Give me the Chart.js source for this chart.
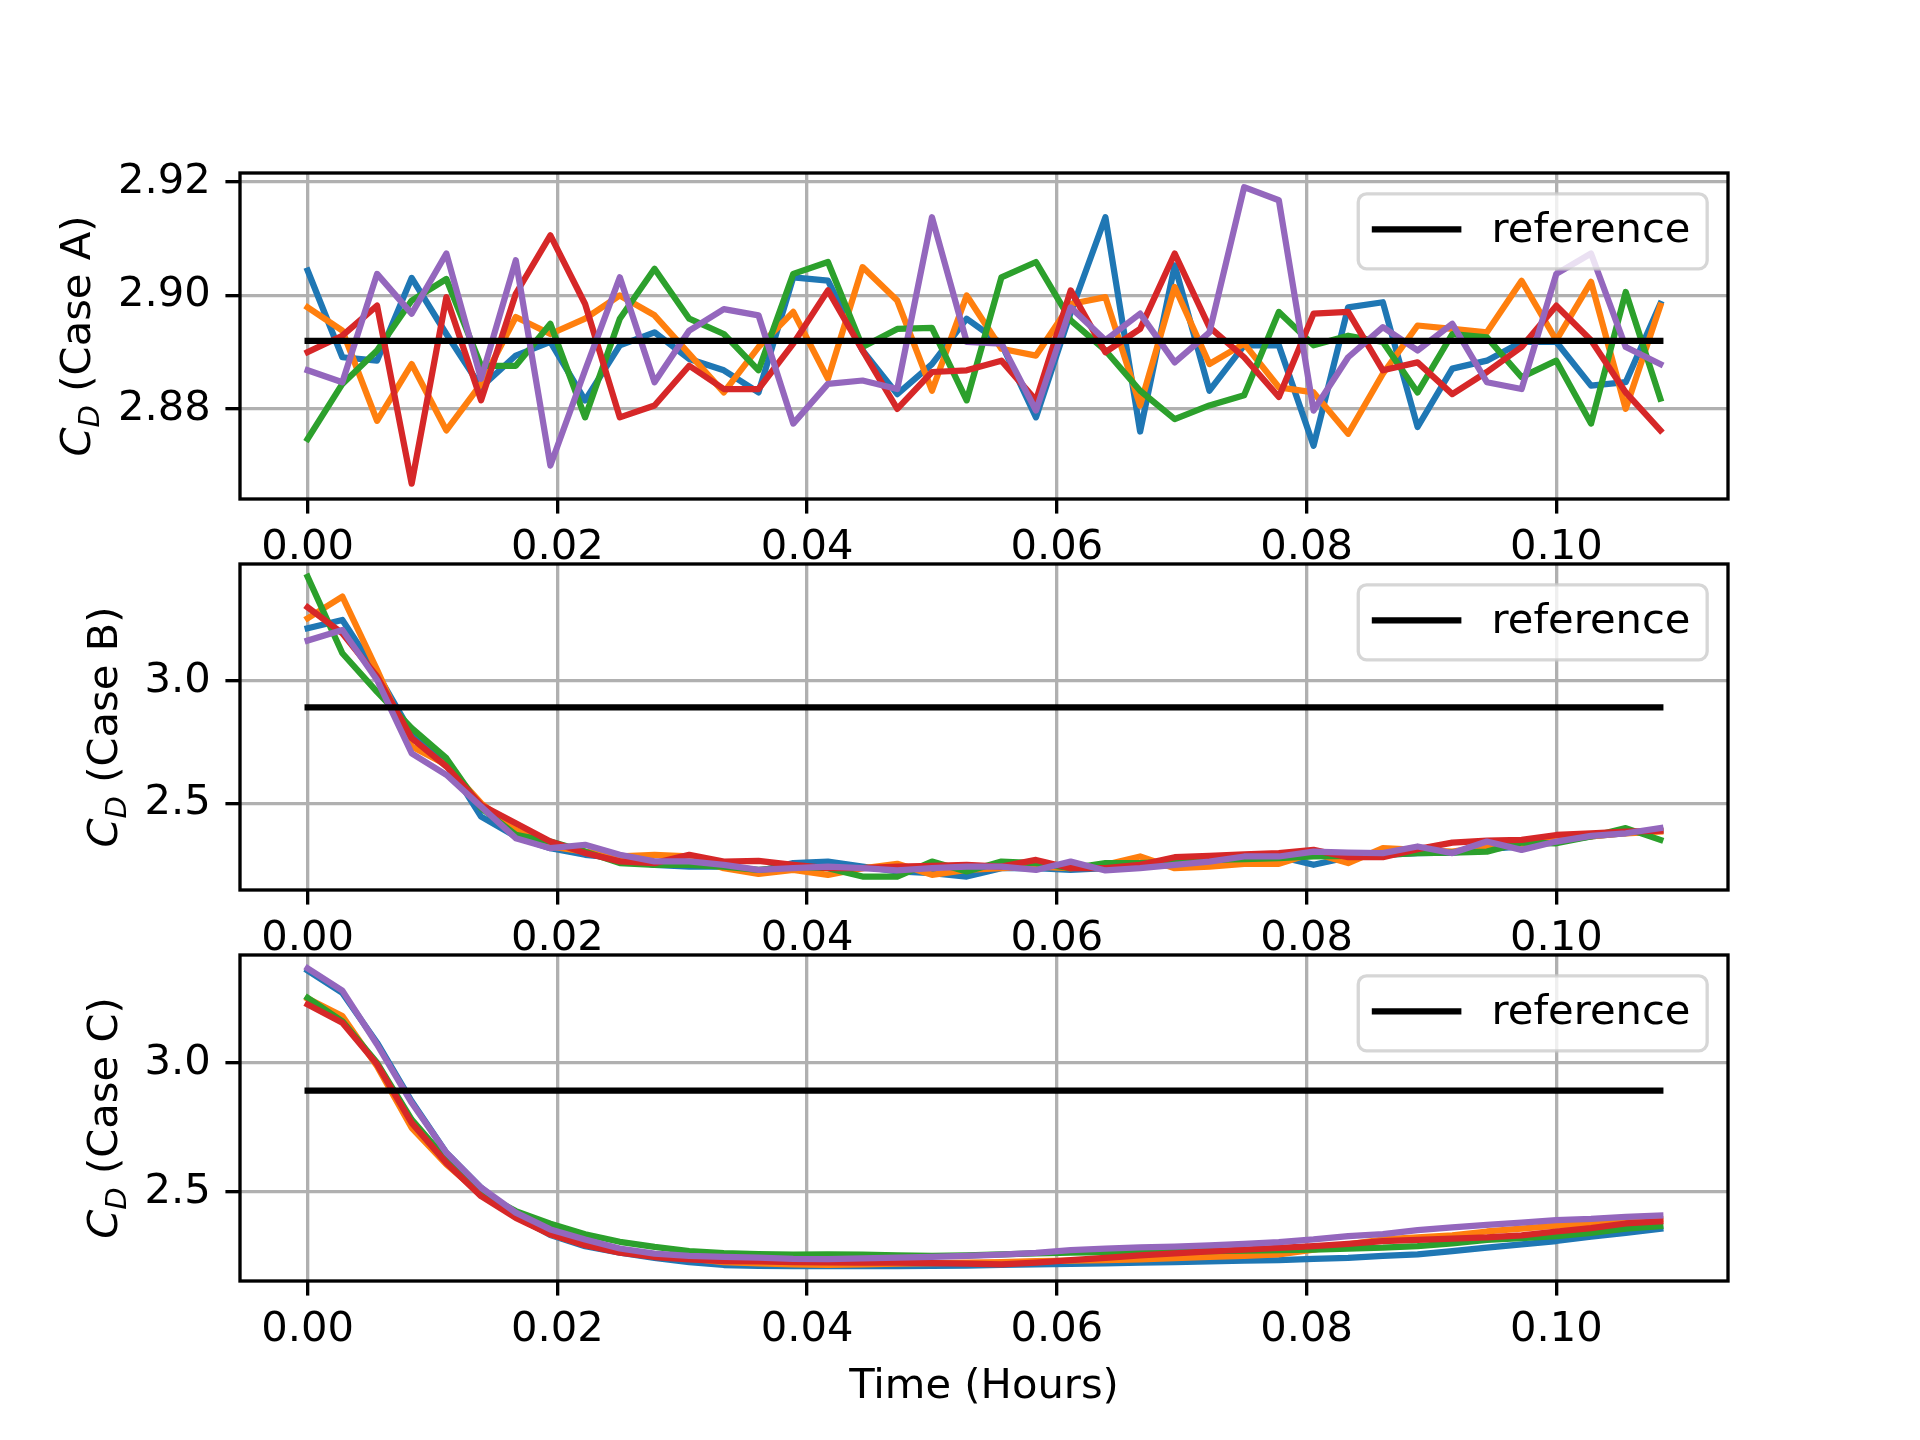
<!DOCTYPE html>
<html lang="en">
<head>
<meta charset="UTF-8">
<title>Drag coefficient, cases A-C</title>
<style>
  html, body { margin: 0; padding: 0; background: #ffffff; }
  body { position: relative; width: 1920px; height: 1440px; overflow: hidden; }
  canvas { position: absolute; left: 0; }
</style>
</head>
<body>
<canvas id="caseA" width="1920" height="564" style="top:0px;width:1920px;height:564px"></canvas>
<canvas id="caseB" width="1920" height="431" style="top:524px;width:1920px;height:431px"></canvas>
<canvas id="caseC" width="1920" height="525" style="top:915px;width:1920px;height:525px"></canvas>
<script src="https://cdn.jsdelivr.net/npm/chart.js"></script>
<script>
// time axis, one sample every 10 s (in hours)
const timeHours = [0, 0.00278, 0.00556, 0.00833, 0.01111, 0.01389, 0.01667, 0.01944, 0.02222, 0.025,
  0.02778, 0.03056, 0.03333, 0.03611, 0.03889, 0.04167, 0.04444, 0.04722, 0.05, 0.05278,
  0.05556, 0.05833, 0.06111, 0.06389, 0.06667, 0.06944, 0.07222, 0.075, 0.07778, 0.08056,
  0.08333, 0.08611, 0.08889, 0.09167, 0.09444, 0.09722, 0.1, 0.10278, 0.10556, 0.10833];

// Case A
const caseA_blue = [2.9044, 2.8891, 2.8885, 2.9031, 2.8932, 2.8838, 2.8894, 2.8918, 2.8815, 2.8912,
  2.8935, 2.8888, 2.8868, 2.8829, 2.9032, 2.9026, 2.8903, 2.8826, 2.8879, 2.8959,
  2.8915, 2.8785, 2.8970, 2.9138, 2.8760, 2.9053, 2.8832, 2.8912, 2.8912, 2.8735,
  2.8979, 2.8988, 2.8768, 2.8871, 2.8885, 2.8918, 2.8918, 2.8841, 2.8847, 2.8985];
const caseA_orange = [2.8979, 2.8938, 2.8779, 2.8879, 2.8762, 2.8844, 2.8962, 2.8932, 2.8959, 2.9000,
  2.8965, 2.8897, 2.8829, 2.8909, 2.8971, 2.8853, 2.9050, 2.8991, 2.8832, 2.9000,
  2.8906, 2.8894, 2.8985, 2.8997, 2.8806, 2.9015, 2.8879, 2.8915, 2.8838, 2.8829,
  2.8756, 2.8862, 2.8947, 2.8941, 2.8935, 2.9026, 2.8921, 2.9024, 2.8800, 2.8982];
const caseA_green = [2.8747, 2.8844, 2.8903, 2.8991, 2.9029, 2.8876, 2.8876, 2.8950, 2.8785, 2.8959,
  2.9047, 2.8959, 2.8932, 2.8868, 2.9038, 2.9059, 2.8909, 2.8941, 2.8943, 2.8815,
  2.9032, 2.9059, 2.8956, 2.8903, 2.8832, 2.8782, 2.8806, 2.8824, 2.8971, 2.8912,
  2.8929, 2.8918, 2.8829, 2.8932, 2.8926, 2.8856, 2.8885, 2.8774, 2.9006, 2.8818];
const caseA_red = [2.8900, 2.8929, 2.8982, 2.8668, 2.8997, 2.8815, 2.9003, 2.9106, 2.8985, 2.8785,
  2.8806, 2.8876, 2.8835, 2.8835, 2.8915, 2.9009, 2.8903, 2.8800, 2.8865, 2.8868,
  2.8885, 2.8815, 2.9009, 2.8900, 2.8941, 2.9074, 2.8944, 2.8891, 2.8821, 2.8968,
  2.8971, 2.8868, 2.8882, 2.8826, 2.8865, 2.8909, 2.8982, 2.8921, 2.8829, 2.8762];
const caseA_purple = [2.8868, 2.8847, 2.9038, 2.8968, 2.9074, 2.8853, 2.9062, 2.8700, 2.8868, 2.9032,
  2.8847, 2.8938, 2.8976, 2.8965, 2.8774, 2.8844, 2.8850, 2.8835, 2.9138, 2.8918,
  2.8915, 2.8797, 2.8979, 2.8921, 2.8968, 2.8882, 2.8935, 2.9191, 2.9168, 2.8797,
  2.8891, 2.8944, 2.8903, 2.8950, 2.8847, 2.8835, 2.9038, 2.9074, 2.8909, 2.8879];

// Case B
const caseB_blue = [3.215, 3.249, 3.031, 2.786, 2.670, 2.445, 2.364, 2.316, 2.289, 2.275,
  2.248, 2.241, 2.241, 2.221, 2.255, 2.261, 2.241, 2.221, 2.214, 2.200,
  2.234, 2.234, 2.227, 2.234, 2.241, 2.248, 2.261, 2.268, 2.282, 2.248,
  2.279, 2.289, 2.296, 2.298, 2.312, 2.323, 2.343, 2.364, 2.377, 2.388];
const caseB_orange = [3.256, 3.345, 3.045, 2.732, 2.657, 2.500, 2.391, 2.323, 2.302, 2.282,
  2.289, 2.282, 2.234, 2.211, 2.227, 2.207, 2.234, 2.252, 2.207, 2.227,
  2.234, 2.241, 2.234, 2.248, 2.282, 2.234, 2.241, 2.252, 2.252, 2.296,
  2.255, 2.316, 2.309, 2.302, 2.323, 2.330, 2.350, 2.364, 2.377, 2.384];
const caseB_green = [3.426, 3.113, 2.955, 2.807, 2.684, 2.480, 2.371, 2.343, 2.302, 2.255,
  2.248, 2.248, 2.241, 2.227, 2.241, 2.234, 2.200, 2.200, 2.261, 2.221,
  2.261, 2.255, 2.234, 2.255, 2.255, 2.261, 2.268, 2.271, 2.275, 2.282,
  2.285, 2.289, 2.296, 2.298, 2.302, 2.339, 2.336, 2.364, 2.398, 2.350];
const caseB_red = [3.301, 3.195, 3.018, 2.766, 2.650, 2.493, 2.418, 2.343, 2.296, 2.262,
  2.255, 2.289, 2.261, 2.264, 2.248, 2.234, 2.234, 2.241, 2.244, 2.248,
  2.241, 2.268, 2.234, 2.234, 2.248, 2.279, 2.285, 2.291, 2.296, 2.309,
  2.279, 2.279, 2.312, 2.339, 2.347, 2.350, 2.370, 2.377, 2.384, 2.387];
const caseB_purple = [3.165, 3.208, 3.004, 2.704, 2.616, 2.486, 2.357, 2.316, 2.330, 2.289,
  2.262, 2.262, 2.248, 2.227, 2.234, 2.241, 2.234, 2.225, 2.234, 2.241,
  2.241, 2.227, 2.261, 2.225, 2.234, 2.248, 2.261, 2.282, 2.282, 2.302,
  2.298, 2.296, 2.323, 2.296, 2.343, 2.309, 2.343, 2.366, 2.377, 2.398];

// Case C
const caseC_blue = [3.358, 3.271, 3.078, 2.851, 2.651, 2.516, 2.406, 2.332, 2.289, 2.264,
  2.244, 2.227, 2.216, 2.213, 2.212, 2.212, 2.212, 2.212, 2.213, 2.214,
  2.217, 2.218, 2.220, 2.222, 2.225, 2.227, 2.230, 2.233, 2.235, 2.240,
  2.244, 2.251, 2.257, 2.270, 2.283, 2.296, 2.309, 2.326, 2.341, 2.357];
const caseC_orange = [3.249, 3.181, 2.987, 2.748, 2.606, 2.490, 2.402, 2.335, 2.295, 2.268,
  2.251, 2.242, 2.227, 2.222, 2.218, 2.217, 2.218, 2.221, 2.223, 2.225,
  2.227, 2.231, 2.233, 2.235, 2.238, 2.243, 2.248, 2.251, 2.257, 2.276,
  2.296, 2.315, 2.323, 2.331, 2.346, 2.357, 2.369, 2.377, 2.388, 2.393];
const caseC_green = [3.252, 3.161, 3.000, 2.780, 2.625, 2.496, 2.425, 2.376, 2.335, 2.306,
  2.286, 2.270, 2.262, 2.258, 2.256, 2.257, 2.256, 2.253, 2.251, 2.253,
  2.257, 2.261, 2.264, 2.266, 2.268, 2.269, 2.270, 2.272, 2.274, 2.276,
  2.280, 2.283, 2.289, 2.300, 2.313, 2.320, 2.328, 2.341, 2.357, 2.367];
const caseC_red = [3.226, 3.155, 2.994, 2.767, 2.612, 2.483, 2.399, 2.335, 2.293, 2.264,
  2.247, 2.238, 2.231, 2.230, 2.227, 2.226, 2.225, 2.225, 2.223, 2.221,
  2.218, 2.225, 2.235, 2.244, 2.253, 2.261, 2.269, 2.276, 2.282, 2.289,
  2.298, 2.309, 2.313, 2.318, 2.323, 2.331, 2.346, 2.359, 2.377, 2.385];
const caseC_purple = [3.366, 3.280, 3.071, 2.845, 2.651, 2.516, 2.419, 2.354, 2.315, 2.280,
  2.260, 2.251, 2.248, 2.245, 2.240, 2.239, 2.242, 2.245, 2.248, 2.251,
  2.256, 2.263, 2.274, 2.280, 2.284, 2.287, 2.292, 2.298, 2.305, 2.315,
  2.328, 2.336, 2.351, 2.362, 2.372, 2.380, 2.390, 2.395, 2.403, 2.408];

const referenceCd = 2.892;

const xTicks = [0, 0.02, 0.04, 0.06, 0.08, 0.10];
const yTicksA = [2.88, 2.90, 2.92];
const yTicksB = [2.5, 3.0];
const yTicksC = [2.5, 3.0];

const xLimits = [-0.005417, 0.11375];
const yLimitsA = [2.8641, 2.9216];
const yLimitsB = [2.145, 3.478];
const yLimitsC = [2.154, 3.418];

const seriesColors = ['#1f77b4', '#ff7f0e', '#2ca02c', '#d62728', '#9467bd'];

// matplotlib sizes at 300 dpi
const PT = 300 / 72;
const FS = 10 * PT;
const LW_LINE = 1.5 * PT;
const LW_AXES = 0.8 * PT;
const TICK_LEN = 3.5 * PT;
const TICK_PAD = 3.5 * PT;
const FONT = '"DejaVu Sans", "Liberation Sans", sans-serif';

// spines, inset legend, axis labels
const axesDecor = {
  id: 'axesDecor',
  afterDatasetsDraw(chart, args, opts) {
    const ctx = chart.ctx;
    const a = chart.chartArea;
    ctx.save();
    ctx.strokeStyle = '#000';
    ctx.lineWidth = LW_AXES;
    ctx.lineJoin = 'miter';
    ctx.strokeRect(a.left, a.top, a.right - a.left, a.bottom - a.top);

    // legend, upper right
    const ref = chart.data.datasets.find(d => d.isReference);
    ctx.font = FS + 'px ' + FONT;
    const tw = ctx.measureText(ref.label).width;
    const pad = 0.4 * FS, hl = 2 * FS, htp = 0.8 * FS;
    const w = pad + hl + htp + tw + pad;
    const h = FS + 2 * pad;
    const x0 = a.right - 0.5 * FS - w;
    const y0 = a.top + 0.5 * FS;
    const r = 0.2 * FS;
    ctx.beginPath();
    ctx.roundRect(x0, y0, w, h, r);
    ctx.fillStyle = 'rgba(255,255,255,0.8)';
    ctx.fill();
    ctx.strokeStyle = 'rgba(204,204,204,0.8)';
    ctx.lineWidth = LW_AXES;
    ctx.stroke();
    const cy = y0 + h / 2 - 2;
    ctx.beginPath();
    ctx.moveTo(x0 + pad, cy);
    ctx.lineTo(x0 + pad + hl, cy);
    ctx.strokeStyle = ref.borderColor;
    ctx.lineWidth = LW_LINE;
    ctx.lineCap = 'square';
    ctx.stroke();
    ctx.fillStyle = '#000';
    ctx.textAlign = 'left';
    ctx.textBaseline = 'middle';
    ctx.fillText(ref.label, x0 + pad + hl + htp, y0 + h / 2);
    ctx.restore();
  },
  afterDraw(chart, args, opts) {
    const ctx = chart.ctx;
    const a = chart.chartArea;
    ctx.save();
    ctx.fillStyle = '#000';
    ctx.textBaseline = 'alphabetic';
    ctx.textAlign = 'left';

    // y label: C_D (Case X), rotated
    ctx.font = FS + 'px ' + FONT;
    const tickW = Math.max(...chart.scales.y.ticks.map(t => ctx.measureText(String(t.label)).width));
    const baseX = a.left - TICK_LEN - TICK_PAD - tickW - 28;
    const parts = [
      { t: 'C', font: 'italic ' + FS + 'px ' + FONT, dy: 0 },
      { t: 'D', font: 'italic ' + (0.7 * FS) + 'px ' + FONT, dy: 0.22 * FS },
      { t: ' (Case ' + opts.caseName + ')', font: FS + 'px ' + FONT, dy: 0 }
    ];
    let total = 0;
    parts.forEach(p => { ctx.font = p.font; p.w = ctx.measureText(p.t).width; total += p.w; });
    ctx.translate(baseX, (a.top + a.bottom) / 2);
    ctx.rotate(-Math.PI / 2);
    let x = -total / 2;
    parts.forEach(p => {
      ctx.font = p.font;
      ctx.fillText(p.t, x, p.dy);
      x += p.w;
    });
    ctx.setTransform(1, 0, 0, 1, 0, 0);

    if (opts.xTitle) {
      ctx.font = FS + 'px ' + FONT;
      ctx.textAlign = 'center';
      ctx.fillText(opts.xTitle, (a.left + a.right) / 2, a.bottom + 116.7);
    }
    ctx.restore();
  }
};

function makePanel(canvasId, caseName, series, yTicks, yDigits, yLimits, padTop, xAxisH, xTitle) {
  const datasets = series.map((vals, k) => ({
    label: 'run ' + (k + 1),
    data: vals.map((v, i) => ({ x: timeHours[i], y: v })),
    borderColor: seriesColors[k],
    borderWidth: LW_LINE,
    borderJoinStyle: 'round',
    borderCapStyle: 'square',
    pointRadius: 0,
    tension: 0,
    fill: false,
    order: series.length - k
  }));
  datasets.push({
    label: 'reference',
    isReference: true,
    data: [{ x: timeHours[0], y: referenceCd }, { x: timeHours[timeHours.length - 1], y: referenceCd }],
    borderColor: '#000000',
    borderWidth: LW_LINE,
    borderCapStyle: 'square',
    pointRadius: 0,
    fill: false,
    order: 0
  });

  return new Chart(document.getElementById(canvasId), {
    type: 'line',
    data: { datasets },
    plugins: [axesDecor],
    options: {
      responsive: false,
      maintainAspectRatio: false,
      animation: false,
      devicePixelRatio: 1,
      layout: { padding: { top: padTop, right: 192, bottom: 0, left: 0 } },
      plugins: {
        legend: { display: false },
        tooltip: { enabled: false },
        axesDecor: { caseName, xTitle }
      },
      scales: {
        x: {
          type: 'linear',
          min: xLimits[0],
          max: xLimits[1],
          afterBuildTicks: s => { s.ticks = xTicks.map(v => ({ value: v })); },
          afterFit: s => { s.height = xAxisH; },
          grid: { color: '#b0b0b0', lineWidth: LW_AXES, tickLength: TICK_LEN, tickColor: '#000', tickWidth: LW_AXES },
          border: { display: false },
          ticks: {
            autoSkip: false, maxRotation: 0, padding: 10, color: '#000',
            font: { family: FONT, size: FS },
            callback: v => v.toFixed(2)
          }
        },
        y: {
          type: 'linear',
          min: yLimits[0],
          max: yLimits[1],
          afterBuildTicks: s => { s.ticks = yTicks.map(v => ({ value: v })); },
          afterFit: s => { s.width = 240; },
          grid: { color: '#b0b0b0', lineWidth: LW_AXES, tickLength: TICK_LEN, tickColor: '#000', tickWidth: LW_AXES },
          border: { display: false },
          ticks: {
            autoSkip: false, padding: TICK_PAD, color: '#000',
            font: { family: FONT, size: FS },
            callback: v => v.toFixed(yDigits)
          }
        }
      }
    }
  });
}

makePanel('caseA', 'A', [caseA_blue, caseA_orange, caseA_green, caseA_red, caseA_purple], yTicksA, 2, yLimitsA, 173, 65, null);
makePanel('caseB', 'B', [caseB_blue, caseB_orange, caseB_green, caseB_red, caseB_purple], yTicksB, 1, yLimitsB, 40, 65, null);
makePanel('caseC', 'C', [caseC_blue, caseC_orange, caseC_green, caseC_red, caseC_purple], yTicksC, 1, yLimitsC, 40, 159, 'Time (Hours)');
</script>
</body>
</html>
